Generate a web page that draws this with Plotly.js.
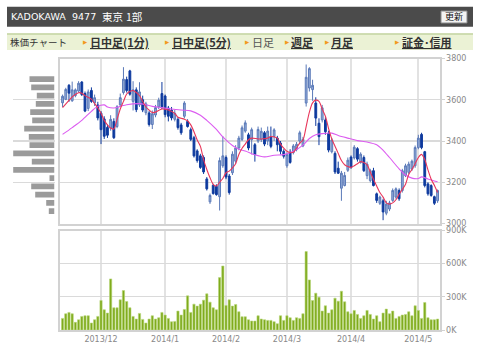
<!DOCTYPE html>
<html><head><meta charset="utf-8">
<script src="https://cdn.plot.ly/plotly-3.0.1.min.js"></script>
<style>html,body{margin:0;padding:0;background:#fff}#c{width:480px;height:353px}</style>
</head><body><div id="c"></div>
<script>
const dates = [
'2013-11-14','2013-11-15','2013-11-18','2013-11-19','2013-11-20','2013-11-21','2013-11-22','2013-11-25','2013-11-26','2013-11-27','2013-11-28','2013-11-29',
'2013-12-02','2013-12-03','2013-12-04','2013-12-05','2013-12-06','2013-12-09','2013-12-10','2013-12-11','2013-12-12','2013-12-13','2013-12-16','2013-12-17','2013-12-18','2013-12-19','2013-12-20','2013-12-24','2013-12-25','2013-12-26','2013-12-27','2013-12-30',
'2014-01-06','2014-01-07','2014-01-08','2014-01-09','2014-01-10','2014-01-14','2014-01-15','2014-01-16','2014-01-17','2014-01-20','2014-01-21','2014-01-22','2014-01-23','2014-01-24','2014-01-27','2014-01-28','2014-01-29','2014-01-30','2014-01-31',
'2014-02-03','2014-02-04','2014-02-05','2014-02-06','2014-02-07','2014-02-10','2014-02-12','2014-02-13','2014-02-14','2014-02-17','2014-02-18','2014-02-19','2014-02-20','2014-02-21','2014-02-24','2014-02-25','2014-02-26','2014-02-27','2014-02-28',
'2014-03-03','2014-03-04','2014-03-05','2014-03-06','2014-03-07','2014-03-10','2014-03-11','2014-03-12','2014-03-13','2014-03-14','2014-03-17','2014-03-18','2014-03-19','2014-03-20','2014-03-24','2014-03-25','2014-03-26','2014-03-27','2014-03-28','2014-03-31',
'2014-04-01','2014-04-02','2014-04-03','2014-04-04','2014-04-07','2014-04-08','2014-04-09','2014-04-10','2014-04-11','2014-04-14','2014-04-15','2014-04-16','2014-04-17','2014-04-18','2014-04-21','2014-04-22','2014-04-23','2014-04-24','2014-04-25','2014-04-28','2014-04-30',
'2014-05-01','2014-05-02','2014-05-07','2014-05-08','2014-05-09','2014-05-12','2014-05-13'];

const open = [3585,3602,3670,3595,3620,3642,3686,3630,3558,3645,3585,3575,
3535,3507,3466,3462,3495,3470,3575,3635,3698,3740,3592,3648,3575,3600,3537,3536,3480,3526,3566,3630,
3618,3560,3550,3505,3505,3478,3520,3495,3455,3416,3352,3328,3320,3216,3105,3185,3180,3130,3280,
3320,3230,3246,3302,3366,3408,3448,3430,3406,3382,3400,3407,3440,3400,3422,3422,3414,3390,3350,
3280,3345,3344,3360,3400,3376,3584,3657,3649,3584,3486,3502,3502,3437,3348,3340,3268,3171,3184,3258,
3322,3318,3363,3296,3320,3232,3208,3256,3144,3098,3110,3050,3070,3112,3128,3160,3160,3232,3248,3264,3280,
3368,3432,3348,3192,3184,3130,3110];
const high = [3625,3658,3676,3688,3655,3690,3690,3640,3650,3660,3625,3590,
3545,3520,3480,3525,3510,3574,3630,3758,3712,3745,3690,3660,3685,3620,3590,3545,3548,3575,3610,3686,
3625,3570,3565,3550,3515,3488,3593,3505,3465,3425,3360,3338,3330,3225,3145,3192,3190,3320,3423,
3330,3240,3350,3380,3425,3475,3500,3440,3465,3390,3470,3465,3448,3470,3470,3462,3425,3400,3360,
3345,3360,3385,3395,3450,3420,3771,3758,3697,3612,3510,3575,3515,3450,3415,3350,3300,3255,3250,3320,
3330,3380,3370,3345,3330,3300,3265,3270,3150,3135,3120,3110,3110,3170,3175,3170,3265,3290,3300,3310,3378,
3430,3440,3352,3200,3190,3135,3165];
const low = [3565,3598,3590,3590,3612,3635,3618,3540,3545,3585,3570,3500,
3385,3410,3415,3450,3410,3462,3565,3625,3635,3620,3548,3540,3565,3540,3525,3470,3458,3515,3555,3555,
3515,3495,3500,3495,3455,3430,3510,3465,3400,3320,3295,3265,3240,3160,3095,3140,3135,3063,3270,
3215,3140,3235,3290,3355,3400,3440,3355,3335,3300,3390,3395,3375,3380,3365,3400,3350,3335,3315,
3270,3290,3335,3350,3385,3370,3567,3640,3595,3473,3380,3490,3430,3345,3340,3240,3240,3110,3180,3250,
3265,3310,3300,3290,3250,3215,3200,3180,3100,3090,3016,3040,3060,3105,3120,3110,3150,3225,3240,3255,3270,
3360,3360,3175,3135,3130,3090,3100];
const close = [3617,3650,3632,3648,3648,3680,3625,3545,3638,3592,3610,3512,
3455,3423,3428,3505,3416,3566,3610,3700,3645,3627,3648,3552,3638,3550,3580,3480,3532,3562,3598,3566,
3528,3520,3512,3535,3465,3440,3584,3470,3408,3328,3305,3272,3250,3168,3136,3145,3140,3305,3328,
3225,3150,3336,3366,3414,3464,3488,3366,3455,3334,3456,3447,3385,3448,3374,3454,3382,3350,3326,
3334,3296,3376,3384,3440,3408,3709,3751,3670,3511,3421,3561,3445,3356,3405,3250,3244,3244,3233,3307,
3272,3370,3312,3336,3256,3288,3256,3184,3112,3128,3056,3094,3100,3160,3168,3120,3256,3280,3288,3302,3368,
3414,3368,3184,3144,3136,3098,3160];

const volK = [105,147,159,147,69,93,123,129,129,63,93,123,
267,183,153,462,201,201,273,357,258,201,123,99,150,96,63,99,129,99,111,159,
135,105,75,78,171,135,186,309,159,234,216,234,270,327,252,201,183,474,579,
222,273,216,231,165,120,120,93,81,81,129,99,93,87,87,75,57,129,87,
129,111,87,111,105,147,710,453,267,333,297,171,219,153,183,288,261,351,255,165,
147,177,141,105,129,177,141,99,129,75,153,189,147,171,105,123,135,141,165,129,219,
177,105,249,111,93,93,99];

const ma5Idx = [0,2,3,5,6,7,9,10,11,12,13,14,15,16,17,18,19,20,21,22,23,24,25,26,27,28,29,31,33,35,36,37,38,39,40,41,42,43,44,45,46,47,48,49,50,51,52,53,54,55,56,57,58,59,61,62,64,65,66,67,68,69,70,71,72,73,74,75,76,77,78,79,80,81,82,83,84,85,86,87,88,89,90,91,92,93,94,95,96,97,98,99,100,101,102,103,104,105,106,107,108,109,110,111,112,113,114,115,116,117];
const ma5Val = [3562,3597,3614,3634,3632,3620,3603,3582,3560,3534,3500,3478,3463,3458,3505,3555,3592,3628,3640,3645,3635,3620,3592,3565,3550,3538,3540,3555,3550,3534,3515,3510,3506,3498,3478,3445,3405,3374,3310,3262,3222,3190,3182,3200,3218,3246,3254,3270,3290,3335,3365,3385,3406,3414,3410,3410,3414,3422,3420,3414,3385,3365,3350,3344,3345,3366,3390,3405,3470,3540,3585,3598,3592,3555,3520,3460,3410,3375,3340,3305,3285,3276,3272,3280,3290,3300,3296,3285,3250,3215,3182,3150,3128,3100,3094,3100,3115,3142,3165,3190,3238,3262,3290,3320,3335,3310,3260,3215,3185,3150];

const ma25Idx = [0,3,6,9,11,13,14,16,18,20,24,26,28,30,34,37,40,43,45,48,50,53,55,57,60,63,66,69,72,75,77,79,81,84,86,89,92,95,98,100,102,105,107,109,111,112,114,117];
const ma25Val = [3432,3465,3500,3544,3568,3575,3565,3560,3568,3576,3581,3576,3568,3564,3555,3550,3546,3525,3500,3456,3420,3378,3360,3352,3333,3323,3331,3334,3350,3380,3412,3430,3436,3438,3427,3414,3402,3395,3382,3355,3320,3265,3235,3220,3218,3226,3216,3202];

const bandPrice = [3700,3660,3620,3580,3540,3500,3460,3420,3380,3340,3300,3260,3220,3180,3140,3100,3060];
const bandVol = [25,23.3,17.7,18.7,24.3,22.3,30.3,25.7,25,41.3,22.7,41.3,5,23.3,19.3,8.3,5.7];

const monthTickDates = ['2013-12-02','2014-01-06','2014-02-03','2014-03-03','2014-04-01','2014-05-01'];
const monthTickLabels = ['2013/12','2014/1','2014/2','2014/3','2014/4','2014/5'];
const priceTicks = [3000,3200,3400,3600,3800];
const volTicks = [0,300,600,900];
const volTickLabels = ['0K','300K','600K','900K'];

const W = 480, H = 353;
const px = v => v / W;
const py = v => 1 - v / H;

const tickFont = {family: 'DejaVu Sans', size: 8, color: '#888'};
const cjk = 'Noto Sans CJK JP, DejaVu Sans, sans-serif';

const traces = [
  {type: 'candlestick', x: dates, open: open, high: high, low: low, close: close,
   xaxis: 'x', yaxis: 'y', whiskerwidth: 0, hoverinfo: 'none',
   increasing: {line: {color: '#5a79b8', width: 1}, fillcolor: '#94acd8'},
   decreasing: {line: {color: '#0e3a9e', width: 1}, fillcolor: '#0e3a9e'}},
  {type: 'scatter', mode: 'lines', x: ma25Idx.map(i => dates[i]), y: ma25Val, xaxis: 'x', yaxis: 'y',
   line: {color: '#dc5cf0', width: 1.1, shape: 'spline', smoothing: 0.8}, hoverinfo: 'none'},
  {type: 'scatter', mode: 'lines', x: ma5Idx.map(i => dates[i]), y: ma5Val, xaxis: 'x', yaxis: 'y',
   line: {color: '#e8365a', width: 1.1, shape: 'spline', smoothing: 0.8}, hoverinfo: 'none'},
  {type: 'bar', x: dates, y: volK, xaxis: 'x2', yaxis: 'y2',
   marker: {color: '#7fab1c', line: {color: '#b8d67a', width: 0.6}}, hoverinfo: 'none'},
  {type: 'bar', orientation: 'h', x: bandVol, y: bandPrice, xaxis: 'x3', yaxis: 'y', width: 29,
   marker: {color: '#9b9b9b', line: {width: 0}}, hoverinfo: 'none'}
];

const gridV = '#e2e2e2', gridH = '#dadada', borderC = '#d2d2d2';
const xCommon = {type: 'category', range: [-0.8, 117.6], tickmode: 'array', tickvals: monthTickDates,
  showgrid: true, gridcolor: gridV, gridwidth: 2, showline: true, mirror: true, linecolor: borderC, linewidth: 2,
  zeroline: false, fixedrange: true, domain: [px(60), px(439.5)]};

const annotations = [];
function ann(text, x, y, opts) {
  annotations.push(Object.assign({text: text, x: px(x), y: py(y), xref: 'paper', yref: 'paper',
    xanchor: 'left', yanchor: 'middle', showarrow: false, font: {family: cjk, size: 11, color: '#333'}}, opts || {}));
}
ann('KADOKAWA', 8.5, 17, {font: {family: 'DejaVu Sans', size: 9.5, color: '#fff'}});
ann('9477', 70, 17, {font: {family: 'DejaVu Sans', size: 9.5, color: '#fff'}});
ann('東京', 100, 17, {font: {family: cjk, size: 10.5, color: '#fff'}});
ann('1部', 124, 17, {font: {family: cjk, size: 10.5, color: '#fff'}});
ann('更新', 454, 17, {xanchor: 'center', font: {family: cjk, size: 9, color: '#111'}});
ann('株価チャート', 7.5, 42, {font: {family: cjk, size: 9.5, color: '#333'}});
const navItems = [
  ['日中足(1分)', 88, true], ['日中足(5分)', 169.5, true], ['日足', 249.5, false],
  ['週足', 289, true], ['月足', 329, true], ['証金･信用', 399.5, true]];
const arrowX = [81, 163, 243, 283, 323, 393];
navItems.forEach((it, k) => {
  ann('▶', arrowX[k], 41.5, {font: {family: 'DejaVu Sans', size: 5.5, color: '#f29a1e'}});
  if (it[2]) ann('<b><u>' + it[0] + '</u></b>', it[1], 42, {font: {family: cjk, size: 11, color: '#333'}});
  else ann(it[0], it[1], 42, {font: {family: cjk, size: 11, color: '#555'}});
});

const shapes = [
  {type: 'rect', xref: 'paper', yref: 'paper', x0: px(7), x1: px(473), y0: py(26.7), y1: py(6.7),
   fillcolor: '#4b4b4b', line: {width: 0}, layer: 'below'},
  {type: 'rect', xref: 'paper', yref: 'paper', x0: px(441), x1: px(467), y0: py(23), y1: py(11),
   fillcolor: '#f3f3f3', line: {color: '#8a8a8a', width: 1}, layer: 'below'},
  {type: 'rect', xref: 'paper', yref: 'paper', x0: px(7), x1: px(473), y0: py(50), y1: py(33.5),
   fillcolor: '#ebf2d5', line: {width: 0}, layer: 'below'},
  {type: 'line', xref: 'paper', yref: 'paper', x0: px(7), x1: px(473), y0: py(34), y1: py(34),
   line: {color: '#c3d4a2', width: 1.5}, layer: 'below'}
];

const layout = {
  width: W, height: H, margin: {l: 0, r: 0, t: 0, b: 0}, showlegend: false,
  paper_bgcolor: '#fff', plot_bgcolor: 'rgba(0,0,0,0)',
  bargap: 0.3, boxgap: 0.2,
  xaxis: Object.assign({}, xCommon, {anchor: 'y', showticklabels: false, ticks: '', rangeslider: {visible: false}}),
  yaxis: {domain: [py(223.5), py(58.5)], range: [3000, 3800], side: 'right', anchor: 'x',
    tickmode: 'array', tickvals: priceTicks, tickfont: tickFont, ticks: 'outside', ticklen: 3, tickcolor: borderC,
    showgrid: true, gridcolor: gridH, gridwidth: 1.3, showline: true, mirror: true, linecolor: borderC, linewidth: 2,
    zeroline: false, fixedrange: true},
  xaxis2: Object.assign({}, xCommon, {anchor: 'y2', ticktext: monthTickLabels, showticklabels: true, ticks: '',
    tickfont: tickFont}),
  yaxis2: {domain: [py(330), py(230.5)], range: [0, 900], side: 'right', anchor: 'x2',
    tickmode: 'array', tickvals: volTicks, ticktext: volTickLabels, tickfont: tickFont, ticks: 'outside', ticklen: 3,
    tickcolor: borderC, showgrid: true, gridcolor: gridH, gridwidth: 1.3, showline: true, mirror: true,
    linecolor: borderC, linewidth: 2, zeroline: false, fixedrange: true},
  xaxis3: {domain: [px(12.5), px(54.5)], range: [42, 0], anchor: 'y', visible: false, fixedrange: true},
  shapes: shapes, annotations: annotations
};

Plotly.newPlot('c', traces, layout, {staticPlot: true, displayModeBar: false});
</script></body></html>
